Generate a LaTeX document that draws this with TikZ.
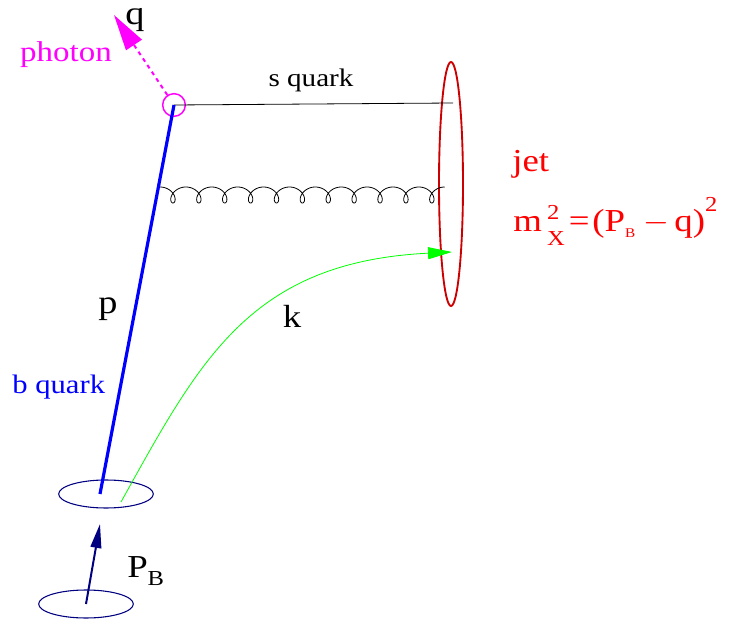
\documentclass[tikz,border=0pt]{standalone}
\usepackage{fontspec}
\setmainfont[FakeStretch=1.15]{Liberation Serif}
\usetikzlibrary{arrows.meta,shapes.geometric}
\definecolor{jetred}{RGB}{204,0,0}
\definecolor{labelred}{RGB}{255,0,0}
\definecolor{photonpink}{RGB}{255,0,255}
\definecolor{beamblue}{RGB}{0,0,128}
\definecolor{quarkblue}{RGB}{0,0,255}
\definecolor{gluongreen}{RGB}{0,255,0}

\newcommand{\fsz}[1]{\fontsize{#1}{#1}\selectfont}

\begin{document}
\begin{tikzpicture}[
  x=0.75pt,
  y=-0.75pt,
  vtx/.style={
    circle,
    draw=photonpink,
    line width=1.1pt,
    minimum size=17pt,
    inner sep=0pt
  },
  hadron/.style={
    ellipse,
    draw=beamblue,
    line width=0.8pt,
    minimum width=71pt,
    minimum height=21pt,
    inner sep=0pt
  },
  jetcone/.style={
    ellipse,
    draw=jetred,
    line width=1.4pt,
    minimum width=18pt,
    minimum height=183pt,
    inner sep=0pt
  },
  lbl/.style={
    inner sep=0pt,
    anchor=base
  }
]
\useasboundingbox (0,0) rectangle (729,624);

\node[vtx] (vtx) at (174,105) {};
\node[hadron] (Bmeson) at (106,494) {};
\node[hadron] (beam) at (86,604) {};
\node[jetcone] (jet) at (451,184) {};

\coordinate (qtip) at (114,15);
\coordinate (sEnd) at (453,103);
\coordinate (gStart) at (160,195);
\coordinate (bEnd) at (100,494);
\coordinate (kStart) at (121,502);
\coordinate (kEnd) at (452,252);
\coordinate (pTip) at (100,524);

% Photon leaving the vertex
\draw[photonpink,line width=1.5pt,dash pattern=on 3pt off 3pt,
  -{Triangle[length=27pt,width=14pt]}]
  (vtx) -- (qtip);

% s quark and gluon towards the jet
\draw[black,line width=0.6pt]
  (vtx.center) -- (sEnd);

\draw[black,line width=0.6pt,shift={(gStart)}]
  plot[domain=0:69.115,samples=500,variable=\t]
  ({4.12*\t+7.5*sin(\t r)},{-8*cos(\t r)});

% b quark line
\draw[quarkblue,line width=2.4pt]
  (vtx.center) -- (bEnd);

% Spectator momentum
\draw[gluongreen,line width=0.6pt,
  -{Triangle[length=18pt,width=9pt]}]
  (kStart) .. controls (200,360) and (250,262) .. (kEnd);

% Incoming meson
\draw[beamblue,line width=1.5pt,
  -{Triangle[length=18pt,width=8pt]}]
  (beam.center) -- (pTip);

% Labels
\node[lbl,photonpink,font=\fsz{21.5}] (photonLbl) at (66,62) {photon};
\node[lbl,font=\fsz{25}] (qLbl) at (135,25) {q};
\node[lbl,font=\fsz{19}] (sLbl) at (311,87) {s quark};
\node[lbl,labelred,font=\fsz{24},anchor=base west] (jetLbl) at (512,172) {jet};
\node[lbl,labelred,font=\fsz{24},anchor=base west] (mxLbl) at (513,232)
  {m\hspace{4pt}\rlap{\raisebox{9pt}{\fsz{16}2}}\raisebox{-10pt}{\fsz{16}X}\hspace{3pt}=\hspace{2pt}(P\raisebox{-4.5pt}{\fsz{10}B}\hspace{6pt}$-$\hspace{4pt}q)\raisebox{15pt}{\fsz{16}2}};
\node[lbl,font=\fsz{25}] (pLbl) at (108,314) {p};
\node[lbl,font=\fsz{24}] (kLbl) at (292,327) {k};
\node[lbl,quarkblue,font=\fsz{20},anchor=base west] (bLbl) at (12,393) {b quark};
\node[lbl,font=\fsz{24},anchor=base west] (PBLbl) at (127,577)
  {P\raisebox{-6pt}{\fsz{16}B}};

\end{tikzpicture}
\end{document}
